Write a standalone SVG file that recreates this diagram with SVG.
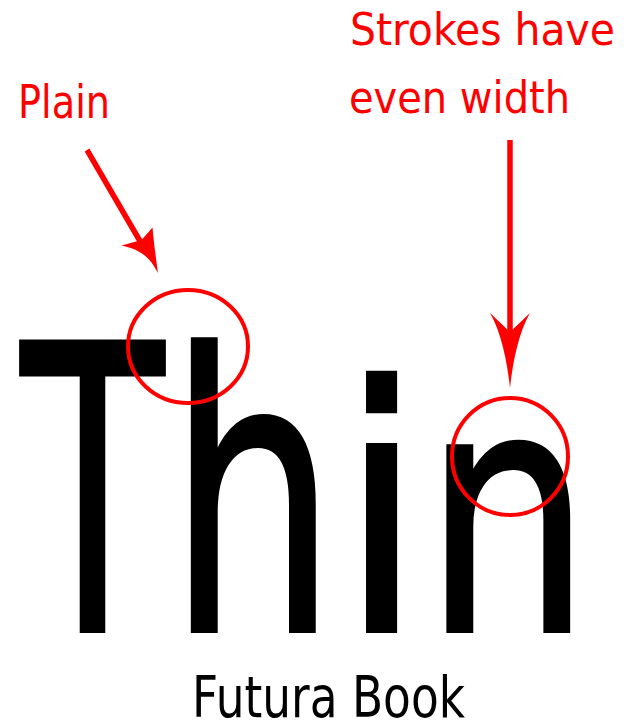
<svg xmlns="http://www.w3.org/2000/svg" width="631" height="727" viewBox="0 0 631 727">
  <style>
    .note { font-family: "DejaVu Sans Condensed", "DejaVu Sans", sans-serif; font-stretch: condensed; fill: #ff0000; }
    .big { font-family: "DejaVu Sans", sans-serif; fill: #000000; stroke: #000000; stroke-width: 4; stroke-linejoin: miter; }
    .caption { font-family: "DejaVu Sans", sans-serif; fill: #000000; }
    .ring { fill: none; stroke: #ff0000; stroke-width: 4; }
    .shaft { stroke: #ff0000; stroke-width: 5.5; stroke-linecap: butt; fill: none; }
    .head { fill: #ff0000; }
  </style>
  <rect width="631" height="727" fill="#ffffff"/>

  <g id="word">
    <text class="big" y="631"><tspan x="21" font-size="397" textLength="143" lengthAdjust="spacingAndGlyphs">T</tspan><tspan x="168" font-size="384" textLength="169" lengthAdjust="spacingAndGlyphs">h</tspan><tspan x="339" font-size="340" textLength="85" lengthAdjust="spacingAndGlyphs">i</tspan><tspan x="424" font-size="338" textLength="167" lengthAdjust="spacingAndGlyphs">n</tspan></text>
  </g>

  <g id="caption">
    <text class="caption" x="192" y="717" font-size="57" textLength="273" lengthAdjust="spacingAndGlyphs">Futura Book</text>
  </g>

  <g id="label-plain">
    <text class="note" x="18" y="118" font-size="46" textLength="92" lengthAdjust="spacingAndGlyphs">Plain</text>
  </g>

  <g id="label-strokes">
    <text class="note" x="350" y="45" font-size="45" textLength="265" lengthAdjust="spacingAndGlyphs">Strokes have</text>
    <text class="note" x="349" y="113" font-size="45" textLength="221" lengthAdjust="spacingAndGlyphs">even width</text>
  </g>

  <g id="circle-plain">
    <ellipse class="ring" cx="188" cy="346.5" rx="60" ry="56.5"/>
  </g>

  <g id="circle-even">
    <ellipse class="ring" cx="510" cy="456.5" rx="58" ry="58.5"/>
  </g>

  <g id="connectors">
    <line class="shaft" x1="87" y1="150" x2="144" y2="248"/>
    <path class="head" d="M158,273 C150,258 142,250 121.5,245.5 L141.5,240 L152.5,227.5 C154,245 156,258 158,273 Z"/>
    <line class="shaft" x1="510" y1="140" x2="510" y2="334"/>
    <path class="head" d="M510,388 C507,360 501,332 490,313 L510,332 L530,313 C519,332 513,360 510,388 Z"/>
  </g>
</svg>
